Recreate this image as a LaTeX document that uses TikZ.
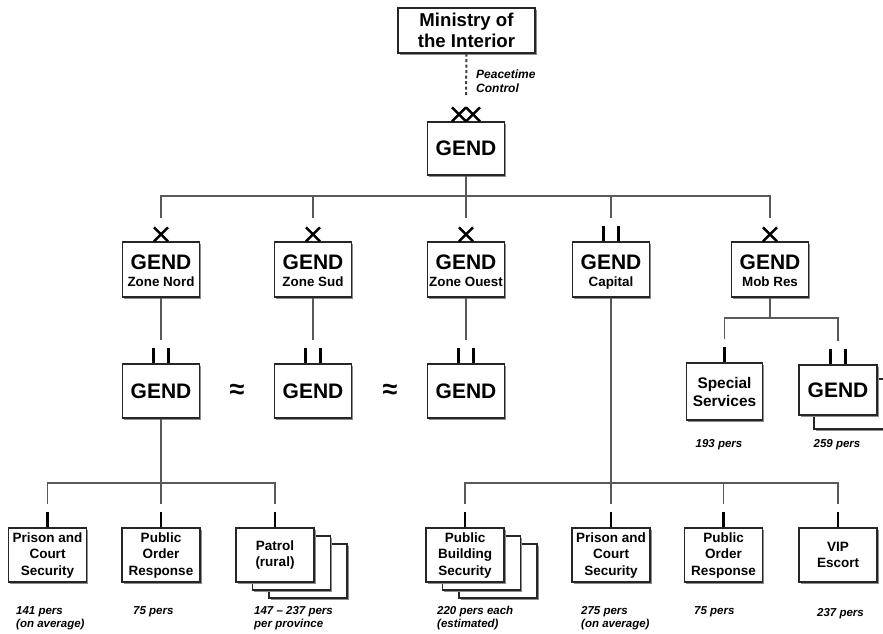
\documentclass[tikz,border=0pt]{standalone}
\usepackage{fontspec}
\setmainfont{Liberation Sans}
\usetikzlibrary{shadows}

% second, smaller line of a headquarters box; the phantom keeps all boxes' lines level
\newcommand\subline[1]{{\fontsize{13.4}{15}\selectfont #1\vphantom{p}}}
% first line of a headquarters box, with a little headroom
\newcommand\hqline[1]{\rule{0pt}{19pt}#1}

\tikzset{
  box/.style={draw=black!85, line width=1.3pt, fill=white, inner sep=0pt, align=center,
    drop shadow={shadow xshift=1.6pt, shadow yshift=-1.6pt, fill=black!45, opacity=1}},
  unitbox/.style={box, minimum width=77pt, minimum height=54pt},
  bigtxt/.style={font=\fontsize{21}{17}\selectfont\bfseries},
  zonebox/.style={unitbox, minimum height=55pt, bigtxt},
  taskbox/.style={box, minimum width=78pt, minimum height=54pt,
    font=\fontsize{13.5}{16.5}\selectfont\bfseries},
  link/.style={draw=black!65, line width=1.4pt},
  ctrl/.style={draw=black!75, line width=2pt, dash pattern=on 3pt off 2.5pt},
  sym/.style={draw=black, line width=2.5pt},
  note/.style={font=\fontsize{11.5}{12.5}\selectfont\bfseries\itshape,
    align=left, anchor=west, inner sep=0pt},
  approx/.style={font=\fontsize{27}{27}\selectfont\bfseries, inner sep=0pt},
  xsym/.pic={\draw[sym] (-7,0) -- (7,-14) (-7,-14) -- (7,0);},
  xxsym/.pic={\draw[sym] (-14,0) -- (0,-14) (-14,-14) -- (0,0)
                          (0,0) -- (14,-14) (0,-14) -- (14,0);},
  iisym/.pic={\draw[sym] (-7.5,0) -- (-7.5,-15) (7.5,0) -- (7.5,-15);},
  isym/.pic={\draw[sym] (0,0) -- (0,-15);},
}

\begin{document}
\begin{tikzpicture}[x=1pt,y=-1pt]
\useasboundingbox (0,0) rectangle (883,633);
\fill[white] (0,0) rectangle (883,633);

% ministry and national headquarters
\node[box, minimum width=137pt, minimum height=45pt,
      font=\fontsize{18.6}{21}\selectfont\bfseries] (min) at (466.5,30.5) {Ministry of\\the Interior};
\node[unitbox, minimum height=53pt, bigtxt] (g0) at (466,148.5) {GEND};
\node[note, font=\fontsize{12}{13.5}\selectfont\bfseries\itshape] (pc) at (476,81) {Peacetime\\Control};

% zones
\node[zonebox] (z1) at (161,269.5) {\hqline{GEND}\\\subline{Zone Nord}};
\node[zonebox] (z2) at (313,269.5) {\hqline{GEND}\\\subline{Zone Sud}};
\node[zonebox] (z3) at (466,269.5) {\hqline{GEND}\\\subline{Zone Ouest}};
\node[zonebox] (z4) at (611,269.5) {\hqline{GEND}\\\subline{Capital}};
\node[zonebox] (z5) at (770,269.5) {\hqline{GEND}\\\subline{Mob Res}};

% zone battalions
\node[unitbox, bigtxt] (n1) at (161,391) {GEND};
\node[unitbox, bigtxt] (n2) at (313,391) {GEND};
\node[unitbox, bigtxt] (n3) at (466,391) {GEND};
\node[approx] (ap1) at (237,391) {≈};
\node[approx] (ap2) at (390,391) {≈};

% mobile reserve
\node[box, minimum width=76pt, minimum height=57pt,
      font=\fontsize{15.4}{18}\selectfont\bfseries] (ss) at (724.5,391.5) {Special\\Services};
\node[box, minimum width=78pt, minimum height=50pt] (mrb) at (853,404) {};
\node[box, minimum width=78pt, minimum height=50pt, bigtxt] (mr) at (838,390) {GEND};

% companies under the zones
\node[taskbox] (a1) at (47.5,555) {Prison and\\Court\\Security};
\node[taskbox] (a2) at (161,555) {Public\\Order\\Response};
\node[taskbox] (a3c) at (308,571) {};
\node[taskbox] (a3b) at (291.5,563) {};
\node[taskbox] (a3) at (275,555) {Patrol\\(rural)};
\node[taskbox] (c1c) at (498,571) {};
\node[taskbox] (c1b) at (481.5,563) {};
\node[taskbox] (c1) at (465,555) {Public\\Building\\Security};
\node[taskbox] (c2) at (611,555) {Prison and\\Court\\Security};
\node[taskbox] (c3) at (723.5,555) {Public\\Order\\Response};
\node[taskbox] (c4) at (838,555) {VIP\\Escort};

% ends of the links, just above each size symbol
\foreach \n in {z1,z2,z3,z4,z5,n1,n2,n3,ss,mr,a1,a2,a3,c1,c2,c3,c4}
  \coordinate (\n-in) at ([yshift=23pt]\n.north);
\coordinate (bus0) at (466,196);
\coordinate (bus2) at (770,318);
\coordinate (bus3) at (161,483);
\coordinate (bus4) at (611,483);

% control and command links
\draw[ctrl] (min.south) -- ([yshift=24pt]g0.north);
\draw[link] (g0.south) -- (bus0);
\draw[link] (z1-in) -- (z1-in |- bus0) -- (z5-in |- bus0) -- (z5-in);
\foreach \n in {z2,z3,z4} \draw[link] (\n-in |- bus0) -- (\n-in);
\draw[link] (z1.south) -- (n1-in);
\draw[link] (z2.south) -- (n2-in);
\draw[link] (z3.south) -- (n3-in);
\draw[link] (z4.south) -- (c2-in);
\draw[link] (z5.south) -- (bus2);
\draw[link] (ss-in) -- (ss-in |- bus2) -- (mr-in |- bus2) -- (mr-in);
\draw[link] (n1.south) -- (bus3) -- (a2-in);
\draw[link] (a1-in) -- (a1-in |- bus3) -- (a3-in |- bus3) -- (a3-in);
\draw[link] (c1-in) -- (c1-in |- bus4) -- (c4-in |- bus4) -- (c4-in);
\draw[link] (c3-in |- bus4) -- (c3-in);

% unit size symbols
\pic at (g0.north) {xxsym};
\foreach \n in {z1,z2,z3,z5} \pic at (\n.north) {xsym};
\foreach \n in {z4,n1,n2,n3,mr} \pic at (\n.north) {iisym};
\foreach \n in {ss,a1,a2,a3,c1,c2,c3,c4} \pic at (\n.north) {isym};

% strengths
\node[note, anchor=center] (l8) at (719,445) {193 pers};
\node[note, anchor=center] (l9) at (837,445) {259 pers};
\node[note] (l1) at (16,618) {141 pers\\(on average)};
\node[note] (l2) at (133,612) {75 pers};
\node[note] (l3) at (254,618) {147 – 237 pers\\per province};
\node[note] (l4) at (437,618) {220 pers each\\(estimated)};
\node[note] (l5) at (581,618) {275 pers\\(on average)};
\node[note] (l6) at (694,612) {75 pers};
\node[note] (l7) at (817,614) {237 pers};
\end{tikzpicture}
\end{document}
